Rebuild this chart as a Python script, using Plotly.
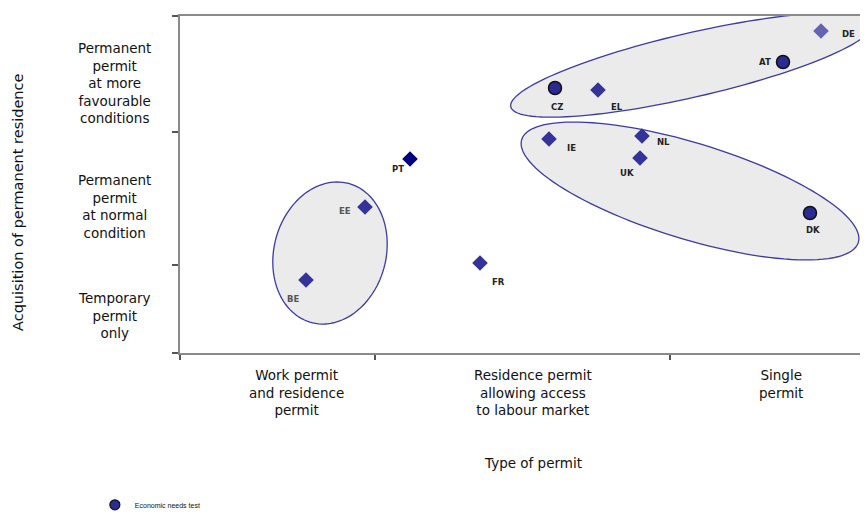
import numpy as np
import plotly.graph_objects as go

# ---- data (x: type of permit scale, y: acquisition of permanent residence scale) ----
diamond_codes = ["EL", "IE", "NL", "UK", "EE", "BE", "FR"]
diamond_x = [4.18, 3.69, 4.62, 4.60, 1.85, 1.26, 3.00]
diamond_y = [2.63, 2.14, 2.17, 1.95, 1.46, 0.73, 0.90]

pt_code = ["PT"]
pt_x = [2.30]
pt_y = [1.94]

de_code = ["DE"]
de_x = [6.41]
de_y = [3.22]

ent_codes = ["AT", "CZ", "DK"]          # economic needs test
ent_x = [6.03, 3.75, 6.30]
ent_y = [2.91, 2.65, 1.40]

x_ticks = [0, 1.95, 4.9]
y_ticks = [0, 0.88, 2.21, 3.37]
x_cat_labels = ["Work permit<br>and residence<br>permit",
                "Residence permit<br>allowing access<br>to labour market",
                "Single<br>permit"]
y_cat_labels = ["Permanent<br>permit<br>at more<br>favourable<br>conditions",
                "Permanent<br>permit<br>at normal<br>condition",
                "Temporary<br>permit<br>only"]

# group ellipses: centre x, centre y, semi-axis a, semi-axis b, angle (deg)
ell_cx = [5.12, 5.10, 1.50]
ell_cy = [2.88, 1.62, 1.00]
ell_a = [1.86, 1.76, 0.72]
ell_b = [0.32, 0.48, 0.56]
ell_ang = [13, -17, 75]

# label offsets in px (dx right, dy down) - styling
label_off = {"DE": (27, 3), "AT": (-18, 0), "CZ": (2, 19), "EL": (19, 17),
             "IE": (22, 9), "NL": (21, 6), "UK": (-13, 15), "DK": (3, 17),
             "PT": (-12, 10), "EE": (-20, 4), "BE": (-13, 19), "FR": (18, 19)}

FONT = "DejaVu Sans, Liberation Sans, Arial, sans-serif"
FONT_S = "Liberation Sans, Arial, sans-serif"

fig = go.Figure()

fig.add_trace(go.Scatter(x=diamond_x, y=diamond_y, mode="markers",
                         marker=dict(symbol="diamond", size=12, color="#333399"),
                         showlegend=False, hoverinfo="skip"))
fig.add_trace(go.Scatter(x=pt_x, y=pt_y, mode="markers",
                         marker=dict(symbol="diamond", size=12, color="#000080"),
                         showlegend=False, hoverinfo="skip"))
fig.add_trace(go.Scatter(x=de_x, y=de_y, mode="markers",
                         marker=dict(symbol="diamond", size=12, color="#6464b0"),
                         showlegend=False, hoverinfo="skip"))
fig.add_trace(go.Scatter(x=ent_x, y=ent_y, mode="markers", name="Economic needs test",
                         marker=dict(symbol="circle", size=13, color="#2b2b96",
                                     line=dict(color="#111111", width=1.5)),
                         showlegend=False, hoverinfo="skip"))
# legend entry (smaller symbol, as in the original legend)
fig.add_trace(go.Scatter(x=[None], y=[None], mode="markers", name="Economic needs test",
                         marker=dict(symbol="circle", size=10, color="#2b2b96",
                                     line=dict(color="#111111", width=1.2)),
                         showlegend=True, hoverinfo="skip"))

# ellipses
t = np.linspace(0, 2 * np.pi, 120)
for cx, cy, a, b, ang in zip(ell_cx, ell_cy, ell_a, ell_b, ell_ang):
    th = np.deg2rad(ang)
    xs = cx + a * np.cos(t) * np.cos(th) - b * np.sin(t) * np.sin(th)
    ys = cy + a * np.cos(t) * np.sin(th) + b * np.sin(t) * np.cos(th)
    path = "M " + " L ".join(f"{x:.4f},{y:.4f}" for x, y in zip(xs, ys)) + " Z"
    fig.add_shape(type="path", path=path, xref="x", yref="y", layer="below",
                  fillcolor="#ebebeb", line=dict(color="#3c3ca0", width=1.3))

# point labels
all_codes = diamond_codes + pt_code + de_code + ent_codes
all_x = diamond_x + pt_x + de_x + ent_x
all_y = diamond_y + pt_y + de_y + ent_y
for c, x, y in zip(all_codes, all_x, all_y):
    dx, dy = label_off[c]
    col = "#555555" if c in ("EE", "BE") else "#222222"
    fig.add_annotation(x=x, y=y, text=c, showarrow=False, xshift=dx, yshift=-dy,
                       font=dict(family=FONT, size=8.5, color=col, weight="bold"))

# x category labels
x_lab_pos = [1.16, 3.53, 6.01]
for xp, txt in zip(x_lab_pos, x_cat_labels):
    fig.add_annotation(x=xp, y=-0.035, xref="x", yref="paper", text=txt, showarrow=False,
                       yanchor="top", xanchor="center", align="center",
                       font=dict(family=FONT, size=13.5, color="#111111"))
# y category labels
y_lab_pos = [2.70, 1.47, 0.38]
for yp, txt in zip(y_lab_pos, y_cat_labels):
    fig.add_annotation(x=-0.0945, y=yp, xref="paper", yref="y", text=txt, showarrow=False,
                       xanchor="center", align="center",
                       font=dict(family=FONT, size=13.5, color="#111111"))

fig.add_annotation(x=3.53, y=-0.326, xref="x", yref="paper", text="Type of permit",
                   xanchor="center", yanchor="middle", showarrow=False,
                   font=dict(family=FONT, size=13.5, color="#111111"))
fig.add_annotation(x=-0.2355, y=1.51, xref="paper", yref="y",
                   text="Acquisition of permanent residence", textangle=-90,
                   xanchor="center", yanchor="middle", showarrow=False,
                   font=dict(family=FONT, size=14.5, color="#111111"))

fig.update_layout(
    width=860, height=508,
    margin=dict(l=172, r=0, t=8, b=163, autoexpand=False),
    paper_bgcolor="white", plot_bgcolor="white",
    font=dict(family=FONT, size=13, color="#111111"),
    xaxis=dict(range=[0, 6.88], showgrid=False, zeroline=False, showline=True,
               linecolor="#8a8a8a", linewidth=2, mirror=True,
               tickvals=x_ticks, ticktext=["", "", ""], ticks="outside",
               ticklen=5, tickcolor="#555555", tickwidth=1.5),
    yaxis=dict(range=[0, 3.37], showgrid=False, zeroline=False, showline=True,
               linecolor="#8a8a8a", linewidth=2, mirror=False,
               tickvals=y_ticks, ticktext=["", "", "", ""], ticks="outside",
               ticklen=6, tickcolor="#555555", tickwidth=1.5),
    showlegend=True,
    legend=dict(xref="container", yref="container", x=0.101, y=0.022,
                xanchor="left", yanchor="middle", bgcolor="rgba(0,0,0,0)",
                font=dict(family=FONT_S, size=7, color="#111111")),
)

fig.write_html("out.html")
